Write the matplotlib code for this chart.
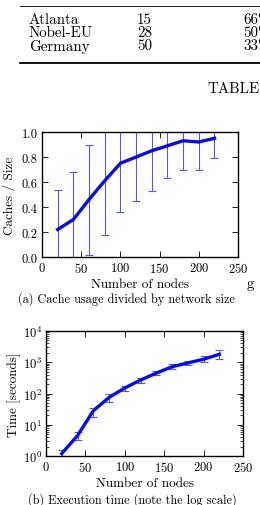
import matplotlib
matplotlib.use("Agg")
import matplotlib.pyplot as plt
from matplotlib.lines import Line2D

plt.rcParams["font.family"] = ["cmr10", "DejaVu Serif"]
plt.rcParams["mathtext.fontset"] = "cm"
plt.rcParams["axes.formatter.use_mathtext"] = True

# table fragment at the top of the page
table_names = ["Atlanta", "Nobel-EU", "Germany"]
table_nodes = ["15", "28", "50"]
table_ratio = ["66%", "50%", "33%"]

# (a) cache usage
nodes = [20, 40, 60, 80, 100, 120, 140, 160, 180, 200, 220]
cache_ratio = [0.22, 0.30, 0.46, 0.61, 0.75, 0.80, 0.85, 0.89, 0.93, 0.92, 0.95]
cache_err = [0.32, 0.38, 0.44, 0.43, 0.39, 0.35, 0.32, 0.26, 0.23, 0.22, 0.16]

# (b) execution time
exec_time = [1.2, 4.5, 28, 75, 150, 270, 450, 720, 950, 1250, 1800]
time_low = [0.9, 3.3, 18, 55, 120, 220, 380, 620, 820, 1000, 1300]
time_high = [1.5, 6.0, 35, 95, 180, 320, 540, 850, 1100, 1600, 2400]

W, H = 260, 506
LINE_COLOR = "#0a0ae6"
ERR_COLOR = "#5858e0"
TICK_SIZE = 9
LABEL_SIZE = 9.5
CAPTION_SIZE = 8.8
TABLE_SIZE = 10.8


def px(x, y):
    """pixel coordinates (from top-left) to figure fractions"""
    return x / W, 1 - y / H


def axes_box(left, top, right, bottom):
    return [left / W, 1 - bottom / H, (right - left) / W, (bottom - top) / H]


def style_axes(ax):
    ax.tick_params(direction="in", top=True, right=True, labelsize=TICK_SIZE,
                   length=4, width=0.6, pad=3)
    ax.tick_params(which="minor", direction="in", top=True, right=True,
                   length=2, width=0.5)
    for sp in ax.spines.values():
        sp.set_linewidth(1.0)


def draw_table(fig):
    fig.add_artist(Line2D([20 / W, 1], [1 - 7 / H] * 2, color="black", lw=0.6))
    fig.add_artist(Line2D([20 / W, 1], [1 - 64 / H] * 2, color="black", lw=1.3))
    # header row, mostly outside the crop
    fig.text(*px(243, -4), "Ratio", fontsize=TABLE_SIZE, va="center", ha="left")
    rows_y = [20.5, 33.5, 46.5]
    for name, n, r, y in zip(table_names, table_nodes, table_ratio, rows_y):
        fig.text(*px(29, y), name, fontsize=TABLE_SIZE, va="center", ha="left")
        fig.text(*px(137, y), n, fontsize=TABLE_SIZE, va="center", ha="left")
        fig.text(*px(243, y), r, fontsize=TABLE_SIZE, va="center", ha="left")
    fig.text(*px(207, 89), "TABLE", fontsize=TABLE_SIZE, va="center", ha="left")


def plot_cache(fig):
    ax = fig.add_axes(axes_box(42, 133, 238, 258))
    ax.errorbar(nodes, cache_ratio, yerr=cache_err, color=LINE_COLOR, lw=2.4,
                ecolor=ERR_COLOR, elinewidth=0.8, capsize=3, capthick=0.8)
    ax.set_xlim(0, 250)
    ax.set_ylim(0, 1.0)
    ax.set_xticks(range(0, 251, 50))
    ax.set_yticks([0.0, 0.2, 0.4, 0.6, 0.8, 1.0])
    ax.set_yticklabels(["0.0", "0.2", "0.4", "0.6", "0.8", "1.0"])
    style_axes(ax)
    ax.set_xlabel("Number of nodes", fontsize=LABEL_SIZE, labelpad=2)
    ax.set_ylabel("Caches / Size", fontsize=LABEL_SIZE, labelpad=4)
    fig.text(*px(250, 284), "g", fontsize=TABLE_SIZE, va="center", ha="center")
    fig.text(*px(126, 299), "(a) Cache usage divided by network size",
             fontsize=CAPTION_SIZE, va="center", ha="center")


def plot_time(fig):
    ax = fig.add_axes(axes_box(46, 332, 243, 457))
    lower = [t - lo for t, lo in zip(exec_time, time_low)]
    upper = [hi - t for t, hi in zip(exec_time, time_high)]
    ax.errorbar(nodes, exec_time, yerr=[lower, upper], color=LINE_COLOR, lw=2.4,
                ecolor=ERR_COLOR, elinewidth=0.8, capsize=3, capthick=0.8)
    ax.set_yscale("log")
    ax.set_xlim(0, 250)
    ax.set_ylim(1, 1e4)
    ax.set_xticks(range(0, 251, 50))
    style_axes(ax)
    ax.set_xlabel("Number of nodes", fontsize=LABEL_SIZE, labelpad=2)
    ax.set_ylabel("Time [seconds]", fontsize=LABEL_SIZE, labelpad=1.5)
    fig.text(*px(132, 500), "(b) Execution time (note the log scale)",
             fontsize=CAPTION_SIZE, va="center", ha="center")


if __name__ == "__main__":
    fig = plt.figure(figsize=(W / 100, H / 100), dpi=100)
    draw_table(fig)
    plot_cache(fig)
    plot_time(fig)
    fig.savefig("out.png", dpi=100)
